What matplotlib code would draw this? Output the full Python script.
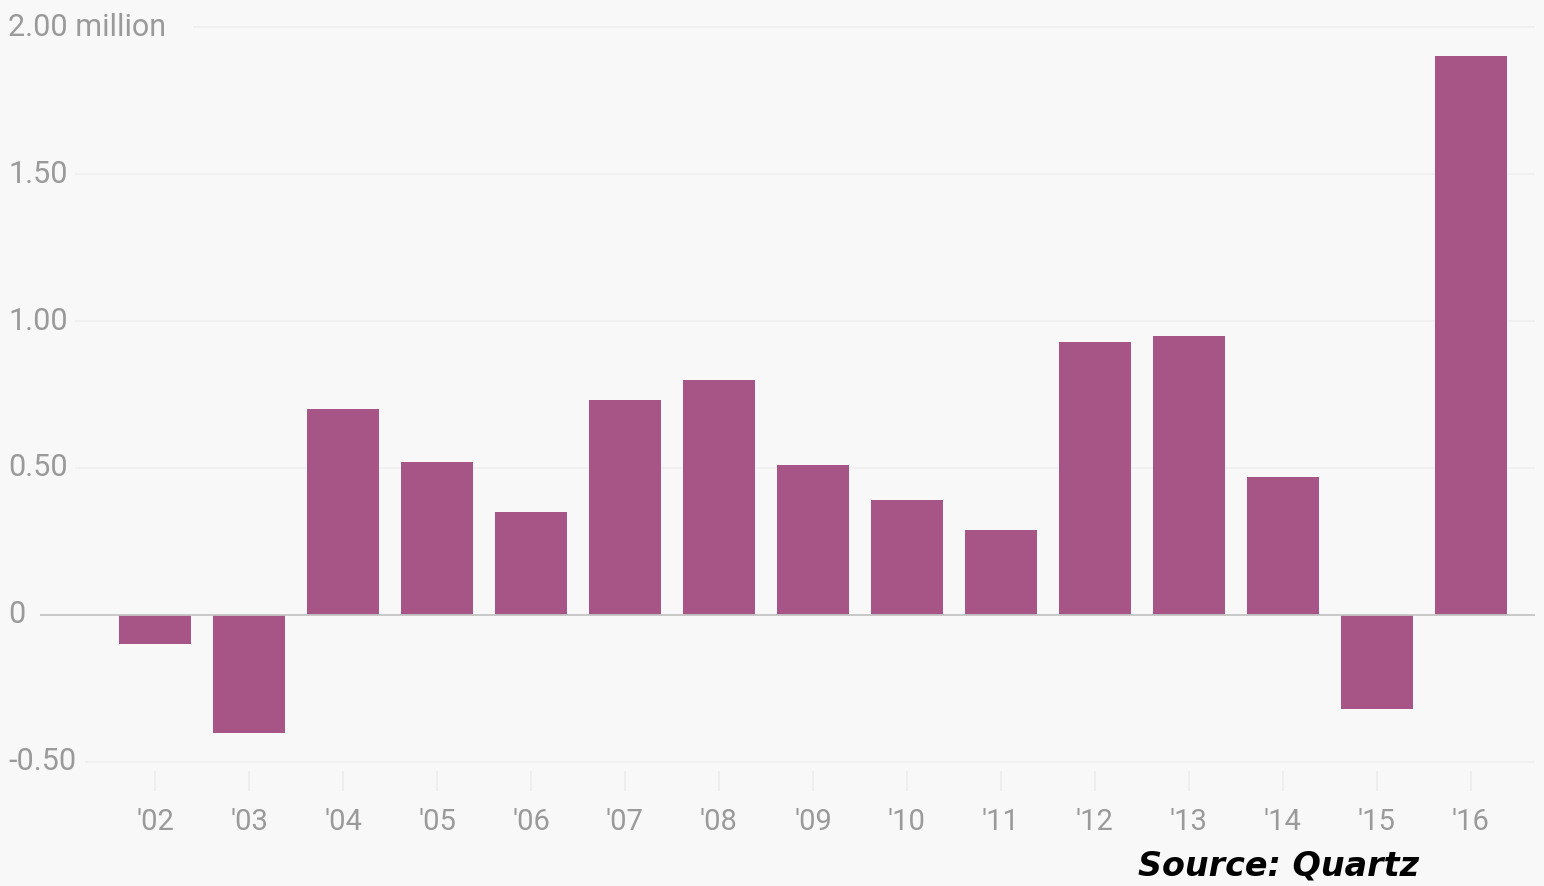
import matplotlib.pyplot as plt

# values in millions
years = ["'02", "'03", "'04", "'05", "'06", "'07", "'08", "'09",
         "'10", "'11", "'12", "'13", "'14", "'15", "'16"]
values = [-0.10, -0.40, 0.70, 0.52, 0.35, 0.73, 0.80, 0.51,
          0.39, 0.29, 0.93, 0.95, 0.47, -0.32, 1.90]
y_ticks = [2.0, 1.5, 1.0, 0.5, 0.0, -0.5]
y_labels = ["2.00 million", "1.50", "1.00", "0.50", "0", "-0.50"]

BG = "#f8f8f8"
BAR = "#a65586"
TXT = "#9a9a9a"

fig = plt.figure(figsize=(15.44, 8.86), dpi=100, facecolor=BG)
ax = fig.add_axes([0, 0, 1, 1], facecolor=BG)

x = list(range(len(years)))
ax.bar(x, values, width=0.77, color=BAR, zorder=3)

# view limits so the layout lines up with the original
ax.set_xlim(-1.65, 14.78)
ax.set_ylim(-0.922, 2.092)
ax.axis("off")

label_x = -1.65 + 8 / 94
grid_start = {2.0: 0.40, 1.5: -0.85, 1.0: -0.85, 0.5: -0.85, 0.0: -1.22, -0.5: -0.75}
for t, lab in zip(y_ticks, y_labels):
    if t == 0:
        ax.hlines(t, grid_start[t], 14.68, color="#c4c4c4", lw=1.3, zorder=4)
    else:
        ax.hlines(t, grid_start[t], 14.68, color="#efefef", lw=1.2, zorder=1)
    ax.text(label_x, t, lab, ha="left", va="center", fontsize=22,
            color=TXT, family="Roboto")

# small faint ticks and year labels below the chart
for i, yr in enumerate(years):
    ax.vlines(i, -0.53, -0.60, color="#ececec", lw=1.2)
    ax.text(i, -0.705, yr, ha="center", va="center", fontsize=21,
            color=TXT, family="Roboto")

fig.text(1278 / 1544, 1 - 866 / 886, "Source: Quartz", ha="center", va="center",
         fontsize=24, fontweight="bold", fontstyle="italic", color="black",
         family="DejaVu Sans")

fig.savefig("out.png", dpi=100, facecolor=BG)
